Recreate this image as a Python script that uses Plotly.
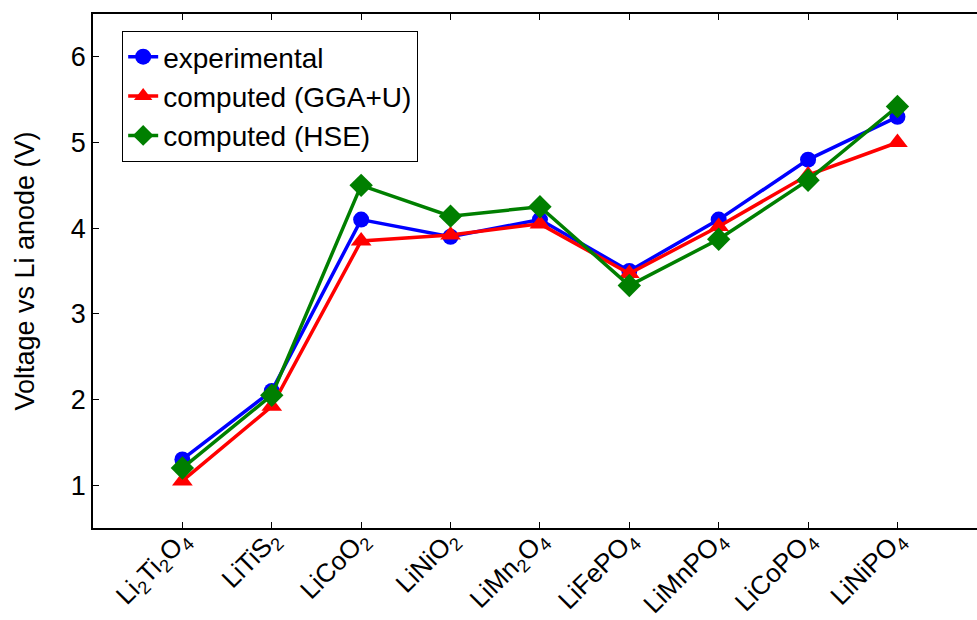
import plotly.graph_objects as go

categories = ["Li<sub>2</sub>Ti<sub>2</sub>O<sub>4</sub>", "LiTiS<sub>2</sub>", "LiCoO<sub>2</sub>",
              "LiNiO<sub>2</sub>", "LiMn<sub>2</sub>O<sub>4</sub>", "LiFePO<sub>4</sub>",
              "LiMnPO<sub>4</sub>", "LiCoPO<sub>4</sub>", "LiNiPO<sub>4</sub>"]
experimental = [1.3, 2.1, 4.1, 3.9, 4.1, 3.5, 4.1, 4.8, 5.3]
gga_u = [1.05, 1.92, 3.85, 3.92, 4.05, 3.47, 4.02, 4.62, 5.0]
hse = [1.2, 2.05, 4.5, 4.14, 4.25, 3.33, 3.87, 4.56, 5.42]
y_ticks = [1, 2, 3, 4, 5, 6]

xs = list(range(len(categories)))
FONT = "Liberation Sans, Arial, Helvetica, sans-serif"

fig = go.Figure()
fig.add_trace(go.Scatter(x=xs, y=experimental, mode="lines+markers", name="experimental",
                         line=dict(color="#0000FF", width=3.5),
                         marker=dict(symbol="circle", size=16, color="#0000FF")))
fig.add_trace(go.Scatter(x=xs, y=gga_u, mode="lines+markers", name="computed (GGA+U)",
                         line=dict(color="#FF0000", width=3.5),
                         marker=dict(symbol="triangle-up", size=18, color="#FF0000")))
fig.add_trace(go.Scatter(x=xs, y=hse, mode="lines+markers", name="computed (HSE)",
                         line=dict(color="#007F00", width=3.5),
                         marker=dict(symbol="diamond", size=18, color="#007F00")))

fig.update_layout(
    width=977, height=620,
    margin=dict(l=93, r=0, t=14, b=92),
    paper_bgcolor="white", plot_bgcolor="white",
    font=dict(family=FONT, size=27, color="black"),
    showlegend=True,
    legend=dict(x=0.033, y=0.967, xanchor="left", yanchor="top",
                bordercolor="black", borderwidth=1, bgcolor="white",
                font=dict(size=28, family=FONT), itemwidth=30, tracegroupgap=0),
    xaxis=dict(range=[-1, 8.89], tickmode="array", tickvals=xs, ticktext=categories,
               tickangle=-45, ticks="inside", ticklen=6, tickcolor="black",
               showline=True, linecolor="black", linewidth=1.5, mirror="ticks",
               showgrid=False, zeroline=False, tickfont=dict(size=26), automargin=False,
               ticklabelstandoff=-16),
    yaxis=dict(range=[0.5, 6.5], tickmode="array", tickvals=y_ticks,
               ticks="inside", ticklen=6, tickcolor="black",
               showline=True, linecolor="black", linewidth=1.5, mirror=False,
               showgrid=False, zeroline=False, tickfont=dict(size=27), automargin=False,
               title=dict(text="Voltage vs Li anode (V)", font=dict(size=27), standoff=28)),
)

fig.write_html("out.html")
